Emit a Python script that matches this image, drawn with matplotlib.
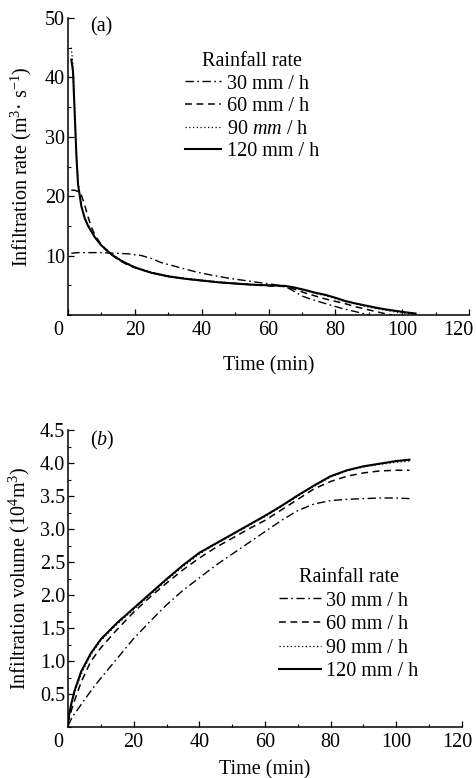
import matplotlib
matplotlib.use('Agg')
import matplotlib.pyplot as plt
from matplotlib.ticker import MultipleLocator
import matplotlib.transforms as mtransforms

plt.rcParams['font.family'] = ['Liberation Serif', 'DejaVu Serif']
plt.rcParams['mathtext.fontset'] = 'custom'
plt.rcParams['mathtext.rm'] = 'Liberation Serif'
plt.rcParams['mathtext.it'] = 'Liberation Serif:italic'

# ---------------- data ----------------
legend_title = 'Rainfall rate'
labels_a = ['30 mm / h', '60 mm / h', '90 $mm$ / h', '120 mm / h']
labels_b = ['30 mm / h', '60 mm / h', '90 mm / h', '120 mm / h']

x_ticks = [0, 20, 40, 60, 80, 100, 120]
ya_ticks = [10, 20, 30, 40, 50]
yb_ticks = [0.5, 1.0, 1.5, 2.0, 2.5, 3.0, 3.5, 4.0, 4.5]

# (a) infiltration rate
t30_a = [1, 3, 6, 10, 14, 18, 22, 25, 28, 32, 38, 43, 48, 53, 58, 62, 65, 67, 70, 73, 76, 79, 82, 85, 88, 90]
v30_a = [10.4, 10.5, 10.5, 10.5, 10.4, 10.3, 10.0, 9.5, 8.8, 8.2, 7.3, 6.7, 6.2, 5.8, 5.4, 5.1, 4.8, 4.2,
         3.2, 2.6, 2.1, 1.6, 1.1, 0.7, 0.3, 0.0]
t60_a = [1, 2, 3, 4, 5, 6, 7, 8, 10, 12, 15, 18, 22, 26, 30, 35, 40, 45, 50, 55, 60, 65, 68, 71, 74, 77,
         80, 83, 86, 89, 92, 95, 97]
v60_a = [21, 21, 20.8, 20.2, 18.5, 16.5, 14.8, 13.5, 11.8, 10.6, 9.3, 8.4, 7.6, 7.0, 6.5, 6.1, 5.8, 5.5,
         5.3, 5.1, 4.9, 4.8, 4.3, 3.7, 3.2, 2.7, 2.3, 1.9, 1.4, 1.0, 0.6, 0.2, 0.0]
t90_a = [1, 1.5, 2, 2.5, 3, 4, 5, 6, 8, 10, 13, 16, 20, 25, 30, 35, 40, 45, 50, 55, 60, 65, 68, 71, 74,
         77, 80, 83, 86, 89, 92, 95, 98, 101, 104]
v90_a = [45, 42, 35, 27.5, 22.5, 18.5, 16.4, 15.1, 13.2, 11.8, 10.3, 9.2, 8.1, 7.2, 6.6, 6.2, 5.9, 5.6,
         5.35, 5.15, 5.0, 4.85, 4.5, 4.1, 3.65, 3.25, 2.75, 2.25, 1.85, 1.45, 1.1, 0.8, 0.5, 0.3, 0.1]
t120_a = [1, 1.5, 2, 2.5, 3, 4, 5, 6, 8, 10, 13, 16, 20, 25, 30, 35, 40, 45, 50, 55, 60, 65, 68, 71, 74,
          77, 80, 83, 86, 89, 92, 95, 98, 101, 104]
v120_a = [43, 41, 34, 27, 22, 18.3, 16.3, 15.0, 13.1, 11.7, 10.2, 9.1, 8.0, 7.1, 6.5, 6.1, 5.8, 5.5, 5.3,
          5.1, 5.0, 4.9, 4.6, 4.2, 3.75, 3.4, 2.9, 2.35, 1.95, 1.6, 1.25, 0.95, 0.7, 0.45, 0.25]

# (b) infiltration volume
t_b = [0, 1, 2, 4, 7, 10, 15, 20, 25, 30, 35, 40, 45, 50, 55, 60, 65, 70, 75, 80, 85, 90, 95, 100, 104]
v30_b = [0.02, 0.12, 0.2, 0.34, 0.55, 0.74, 1.04, 1.34, 1.6, 1.85, 2.07, 2.26, 2.45, 2.62, 2.79, 2.96,
         3.13, 3.28, 3.38, 3.43, 3.45, 3.46, 3.47, 3.47, 3.46]
v60_b = [0.05, 0.25, 0.4, 0.68, 1.0, 1.2, 1.48, 1.74, 1.97, 2.18, 2.38, 2.56, 2.72, 2.86, 3.0, 3.13,
         3.29, 3.45, 3.61, 3.72, 3.8, 3.85, 3.88, 3.89, 3.89]
v90_b = [0.1, 0.33, 0.52, 0.8, 1.1, 1.31, 1.56, 1.78, 2.0, 2.22, 2.43, 2.62, 2.77, 2.91, 3.05, 3.19,
         3.34, 3.5, 3.65, 3.79, 3.88, 3.94, 3.98, 4.01, 4.03]
v120_b = [0.1, 0.35, 0.55, 0.84, 1.12, 1.33, 1.58, 1.8, 2.02, 2.24, 2.45, 2.64, 2.78, 2.92, 3.06, 3.2,
          3.35, 3.51, 3.66, 3.8, 3.89, 3.95, 3.99, 4.03, 4.05]

# ---------------- styles ----------------
styles = [
    dict(color='black', lw=1.0, ls=(0, (6, 2.5, 1.2, 2.5))),
    dict(color='black', lw=1.1, ls=(0, (4.5, 3))),
    dict(color='black', lw=0.9, ls=(0, (1, 2))),
    dict(color='black', lw=1.5, ls='-'),
]

FS = 14.5
fig = plt.figure(figsize=(4.76, 7.78), dpi=100)
W, H = 476, 778


def ax_box(l, t, r, b):
    return [l / W, 1 - b / H, (r - l) / W, (b - t) / H]


ax1 = fig.add_axes(ax_box(68, 18, 469, 315))
ax2 = fig.add_axes(ax_box(68, 430, 462, 727))


def style_axis(ax, yticks, ylim, yminor):
    for s in ['top', 'right']:
        ax.spines[s].set_visible(False)
    for s in ['left', 'bottom']:
        ax.spines[s].set_linewidth(1.1)
    ax.set_xlim(0, 120)
    ax.set_ylim(*ylim)
    ax.set_xticks(x_ticks)
    ax.set_xticklabels([str(v) for v in x_ticks])
    ax.set_yticks(yticks)
    ax.xaxis.set_minor_locator(MultipleLocator(10))
    ax.yaxis.set_minor_locator(MultipleLocator(yminor))
    ax.tick_params(which='major', direction='in', length=4.5, width=0.9, labelsize=FS, pad=4)
    ax.tick_params(which='minor', direction='in', length=2.5, width=0.8)
    ax.tick_params(axis='y', which='major', pad=2)


# panel (a)
for (t, v), st in zip([(t30_a, v30_a), (t60_a, v60_a), (t90_a, v90_a), (t120_a, v120_a)], styles):
    ax1.plot(t, v, **st)
style_axis(ax1, ya_ticks, (0, 50), 5)
ax1.set_yticklabels([str(v) for v in ya_ticks])
ax1.set_xlabel('Time (min)', fontsize=FS, labelpad=12)
ax1.set_ylabel('Infiltration rate (m$^{3}$· s$^{-1}$)', fontsize=FS, labelpad=8)
ax1.text(0.055, 0.97, '(a)', transform=ax1.transAxes, fontsize=FS, ha='left', va='center')
leg1 = ax1.legend(labels_a, title=legend_title, frameon=False, fontsize=FS, title_fontsize=FS,
                  loc='upper left', bbox_to_anchor=(183 / W, 1 - 50 / H), bbox_transform=fig.transFigure,
                  handlelength=1.8, handletextpad=0.3, labelspacing=0.17, borderpad=0.1,
                  borderaxespad=0)

# panel (b)
for v, st in zip([v30_b, v60_b, v90_b, v120_b], styles):
    ax2.plot(t_b, v, **st)
style_axis(ax2, yb_ticks, (0, 4.5), 0.25)
ax2.set_yticklabels(['%.1f' % v for v in yb_ticks])
ax2.set_xlabel('Time (min)', fontsize=FS, labelpad=6)
ax2.set_ylabel('Infiltration volume (10$^{4}$m$^{3}$)', fontsize=FS, labelpad=6)
ax2.text(0.055, 0.965, '($b$)', transform=ax2.transAxes, fontsize=FS, ha='left', va='center')
leg2 = ax2.legend(labels_b, title=legend_title, frameon=False, fontsize=FS, title_fontsize=FS,
                  loc='upper left', bbox_to_anchor=(277 / W, 1 - 566 / H), bbox_transform=fig.transFigure,
                  handlelength=2.1, handletextpad=0.25, labelspacing=0.22, borderpad=0.1,
                  borderaxespad=0)

# shift the "0" x tick label left and the "120" label slightly inward, as in the reference
for ax, shift_end in ((ax1, -11), (ax2, -5)):
    ticks = ax.xaxis.get_major_ticks()
    off0 = mtransforms.ScaledTranslation(-10 / 100, 0, fig.dpi_scale_trans)
    ticks[0].label1.set_transform(ticks[0].label1.get_transform() + off0)
    offe = mtransforms.ScaledTranslation(shift_end / 100, 0, fig.dpi_scale_trans)
    ticks[-1].label1.set_transform(ticks[-1].label1.get_transform() + offe)

fig.savefig('out.png', dpi=100)
